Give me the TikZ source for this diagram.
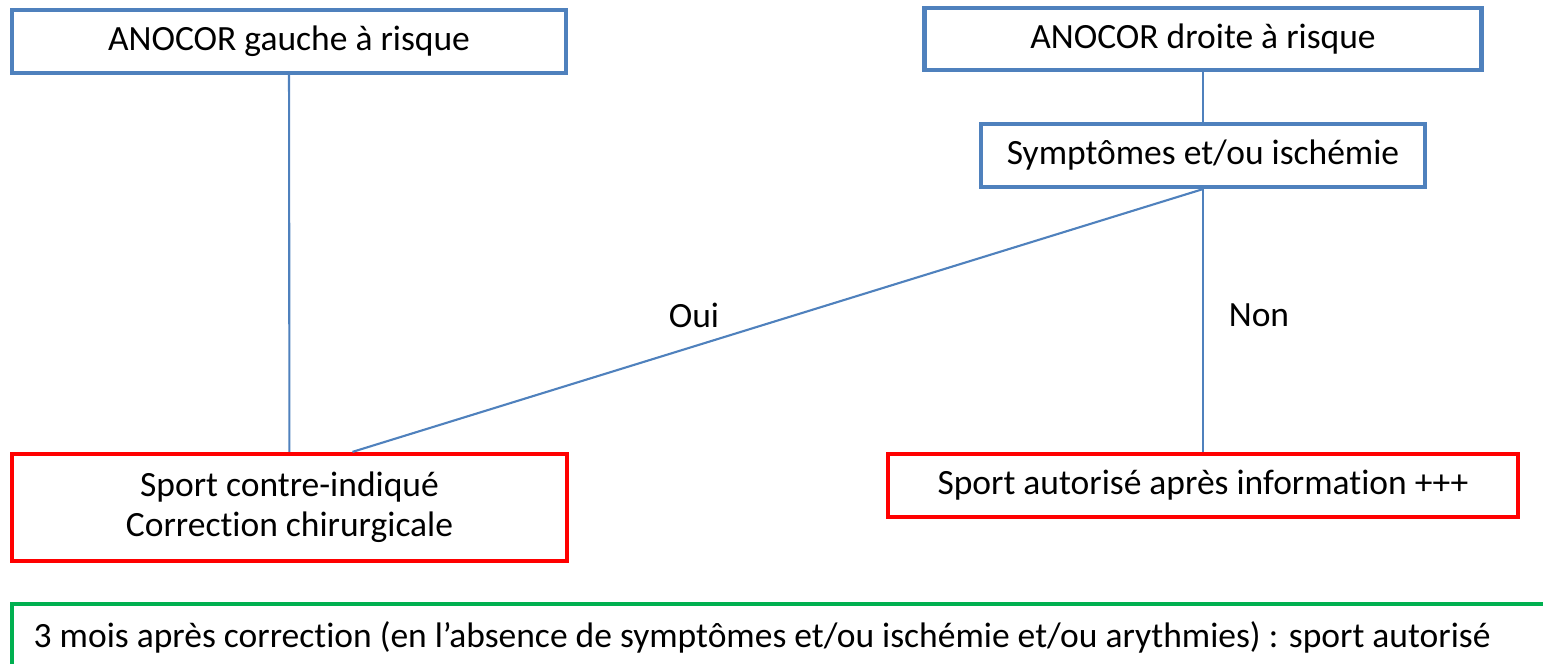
\documentclass[tikz,border=0pt]{standalone}
\usepackage{fontspec}
\setmainfont{Carlito}[Ligatures=NoCommon]
\usetikzlibrary{positioning}
\definecolor{B}{RGB}{79, 129, 189}
\definecolor{R}{RGB}{255, 0, 0}
\definecolor{G}{RGB}{0, 176, 80}
\tikzset{
  boite/.style={draw=#1, line width=1.2pt, inner sep=0pt, align=center,
    font=\fontsize{10.1}{11.4}\selectfont},
  lien/.style={draw=B, line width=0.6pt},
  etiquette/.style={font=\fontsize{10.1}{11.4}\selectfont}
}
\begin{document}
\begin{tikzpicture}
  \useasboundingbox (0,0) rectangle (15.43,6.64);
  %# ANOCOR
  \node[boite=B, minimum width=5.54cm, minimum height=0.63cm] (gauche) at (2.89,6.225) {ANOCOR gauche à risque};
  \node[boite=B, minimum width=5.57cm, minimum height=0.62cm] (droite) at (12.03,6.25) {ANOCOR droite à risque};
  \node[boite=B, minimum width=4.44cm, minimum height=0.63cm] (sympt) at (12.03,5.085) {Symptômes et/ou ischémie};

  %# DECISIONS
  \node[boite=R, minimum width=5.55cm, minimum height=1.07cm] (contre) at (2.895,1.565) {Sport contre-indiqué\\Correction chirurgicale};
  \node[boite=R, minimum width=6.30cm, minimum height=0.63cm] (autorise) at (12.03,1.785) {Sport autorisé après information +++};
  \coordinate (oui) at ([xshift=0.63cm]contre.north);

  %# LIENS
  \draw[lien] (gauche) -- (contre);
  \draw[lien] (droite) -- (sympt);
  \draw[lien] (sympt.south) -- (oui);
  \draw[lien] (sympt) -- (autorise);
  \node[etiquette] (loui) at (6.94,3.49) {Oui};
  \node[etiquette] (lnon) at (12.59,3.49) {Non};

  %# APRES CORRECTION
  \draw[G, line width=1.2pt] (0.12,-0.8) rectangle (16,0.60);
  \node[etiquette, anchor=west, inner sep=0pt] (apres) at (0.33,0.27) {3 mois après correction (en l’absence de symptômes et/ou ischémie et/ou arythmies) : sport autorisé};
\end{tikzpicture}
\end{document}
